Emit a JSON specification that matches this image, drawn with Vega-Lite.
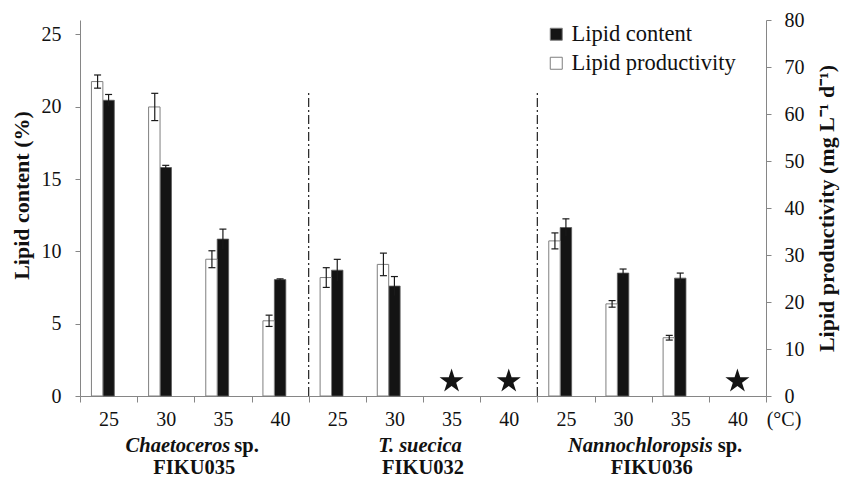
{
  "$schema": "https://vega.github.io/schema/vega-lite/v6.json",
  "width": 686,
  "height": 376,
  "autosize": {"type": "none"},
  "padding": {"left": 80, "top": 20, "right": 90, "bottom": 86},
  "background": "white",
  "config": {
    "view": {"stroke": null},
    "font": "'Liberation Serif', 'Times New Roman', Tinos, serif",
    "axis": {
      "labelFont": "'Liberation Serif', 'Times New Roman', Tinos, serif",
      "titleFont": "'Liberation Serif', 'Times New Roman', Tinos, serif",
      "labelColor": "#111",
      "titleColor": "#111",
      "domainColor": "#868686",
      "tickColor": "#868686",
      "grid": false,
      "labelFontSize": 20,
      "titleFontSize": 22,
      "titleFontWeight": "bold",
      "tickSize": 5
    },
    "text": {"font": "'Liberation Serif', 'Times New Roman', Tinos, serif", "color": "#111"}
  },
  "datasets": {
    "main": [
      {"key": "C25", "content": 20.45, "c_lo": 20.05, "c_hi": 20.85, "prod": 66.9, "p_lo": 65.5, "p_hi": 68.3},
      {"key": "C30", "content": 15.8, "c_lo": 15.65, "c_hi": 15.95, "prod": 61.5, "p_lo": 58.6, "p_hi": 64.4},
      {"key": "C35", "content": 10.85, "c_lo": 10.16, "c_hi": 11.54, "prod": 29.1, "p_lo": 27.3, "p_hi": 30.9},
      {"key": "C40", "content": 8.05, "c_lo": 8.0, "c_hi": 8.1, "prod": 16.0, "p_lo": 14.8, "p_hi": 17.2},
      {"key": "T25", "content": 8.7, "c_lo": 7.95, "c_hi": 9.45, "prod": 25.2, "p_lo": 23.1, "p_hi": 27.3},
      {"key": "T30", "content": 7.6, "c_lo": 6.94, "c_hi": 8.26, "prod": 28.0, "p_lo": 25.6, "p_hi": 30.4},
      {"key": "N25", "content": 11.65, "c_lo": 11.05, "c_hi": 12.25, "prod": 33.0, "p_lo": 31.3, "p_hi": 34.7},
      {"key": "N30", "content": 8.5, "c_lo": 8.22, "c_hi": 8.78, "prod": 19.6, "p_lo": 18.9, "p_hi": 20.3},
      {"key": "N35", "content": 8.15, "c_lo": 7.8, "c_hi": 8.5, "prod": 12.4, "p_lo": 11.9, "p_hi": 12.9}
    ],
    "stars": [
      {"key": "T35", "v": 1.02},
      {"key": "T40", "v": 1.02},
      {"key": "N40", "v": 1.02}
    ],
    "seps": [
      {"key": "T25"},
      {"key": "N25"}
    ],
    "codes": [
      {"key": "C30", "code": "FIKU035"},
      {"key": "T30", "code": "FIKU032"},
      {"key": "N30", "code": "FIKU036"}
    ]
  },
  "layer": [
    {
      "layer": [
        {
          "data": {"name": "main"},
          "mark": {"type": "bar", "stroke": "#5a5a5a", "strokeWidth": 0.8},
          "encoding": {
            "x": {
              "field": "key", "type": "nominal", "title": null,
              "scale": {"domain": ["C25","C30","C35","C40","T25","T30","T35","T40","N25","N30","N35","N40"], "paddingInner": 0, "paddingOuter": 0},
              "axis": {"labelExpr": "substring(datum.label, 1)", "tickBand": "extent", "labelAngle": 0, "tickSize": 6, "labelPadding": 7, "title": null}
            },
            "xOffset": {"datum": "Lipid content", "scale": {"domain": ["Lipid productivity", "Lipid content", "none"], "paddingInner": 0, "paddingOuter": 1.1}},
            "y": {
              "field": "content", "type": "quantitative", "title": "Lipid content (%)",
              "scale": {"domain": [0, 25]},
              "axis": {"orient": "left", "values": [0, 5, 10, 15, 20, 25], "labelPadding": 14, "titlePadding": 8, "titleY": 175}
            },
            "fill": {
              "datum": "Lipid content",
              "scale": {"domain": ["Lipid content", "Lipid productivity"], "range": ["#141414", "#ffffff"]},
              "legend": {"orient": "none", "legendX": 465, "legendY": 3, "title": null, "symbolType": "square", "symbolSize": 144, "labelFontSize": 22.5, "labelFont": "'Liberation Serif', 'Times New Roman', Tinos, serif", "labelColor": "#111", "labelLimit": 0, "rowPadding": 6, "symbolStrokeColor": "#555", "symbolStrokeWidth": 1, "labelOffset": 4, "padding": 0}
            }
          }
        },
        {
          "data": {"name": "main"},
          "mark": {"type": "rule", "color": "#1a1a1a", "strokeWidth": 1.2},
          "encoding": {
            "x": {"field": "key", "type": "nominal", "bandPosition": 0.5, "title": null},
            "y": {"field": "c_lo", "type": "quantitative"},
            "y2": {"field": "c_hi"}
          }
        },
        {
          "data": {"name": "main"},
          "mark": {"type": "point", "shape": "M-1,0L1,0", "filled": false, "color": "#1a1a1a", "strokeWidth": 1.2, "size": 49, "opacity": 1},
          "encoding": {
            "x": {"field": "key", "type": "nominal", "bandPosition": 0.5, "title": null},
            "y": {"field": "c_hi", "type": "quantitative"}
          }
        },
        {
          "data": {"name": "stars"},
          "mark": {"type": "point", "shape": "M0,-1L0.2245,-0.309L0.951,-0.309L0.363,0.118L0.588,0.809L0,0.382L-0.588,0.809L-0.363,0.118L-0.951,-0.309L-0.2245,-0.309Z", "filled": true, "color": "#141414", "size": 640, "opacity": 1},
          "encoding": {
            "x": {"field": "key", "type": "nominal", "title": null},
            "y": {"field": "v", "type": "quantitative"}
          }
        },
        {
          "data": {"name": "seps"},
          "mark": {"type": "rule", "color": "#222", "strokeWidth": 1.2, "strokeDash": [9, 3, 2, 3]},
          "encoding": {
            "x": {"field": "key", "type": "nominal", "bandPosition": 0, "title": null},
            "y": {"datum": 0},
            "y2": {"datum": 21}
          }
        },
        {
          "data": {"values": [{"key": "C30", "t": "Chaetoceros"}]},
          "mark": {"type": "text", "fontSize": 20.5, "fontWeight": "bold", "fontStyle": "italic", "align": "right", "baseline": "middle", "dx": 36},
          "encoding": {
            "x": {"field": "key", "type": "nominal", "bandPosition": 1, "title": null},
            "y": {"datum": -3.46},
            "text": {"field": "t"}
          }
        },
        {
          "data": {"values": [{"key": "C30", "t": "sp."}]},
          "mark": {"type": "text", "fontSize": 20.5, "fontWeight": "bold", "align": "left", "baseline": "middle", "dx": 40},
          "encoding": {
            "x": {"field": "key", "type": "nominal", "bandPosition": 1, "title": null},
            "y": {"datum": -3.46},
            "text": {"field": "t"}
          }
        },
        {
          "data": {"values": [{"key": "T30", "t": "T. suecica"}]},
          "mark": {"type": "text", "fontSize": 20.5, "fontWeight": "bold", "fontStyle": "italic", "align": "center", "baseline": "middle", "dx": -3},
          "encoding": {
            "x": {"field": "key", "type": "nominal", "bandPosition": 1, "title": null},
            "y": {"datum": -3.46},
            "text": {"field": "t"}
          }
        },
        {
          "data": {"values": [{"key": "N30", "t": "Nannochloropsis"}]},
          "mark": {"type": "text", "fontSize": 20.5, "fontWeight": "bold", "fontStyle": "italic", "align": "right", "baseline": "middle", "dx": 61},
          "encoding": {
            "x": {"field": "key", "type": "nominal", "bandPosition": 1, "title": null},
            "y": {"datum": -3.46},
            "text": {"field": "t"}
          }
        },
        {
          "data": {"values": [{"key": "N30", "t": "sp."}]},
          "mark": {"type": "text", "fontSize": 20.5, "fontWeight": "bold", "align": "left", "baseline": "middle", "dx": 66},
          "encoding": {
            "x": {"field": "key", "type": "nominal", "bandPosition": 1, "title": null},
            "y": {"datum": -3.46},
            "text": {"field": "t"}
          }
        },
        {
          "data": {"name": "codes"},
          "mark": {"type": "text", "fontSize": 20.5, "fontWeight": "bold", "align": "center", "baseline": "middle"},
          "encoding": {
            "x": {"field": "key", "type": "nominal", "bandPosition": 1, "title": null},
            "y": {"datum": -4.96},
            "text": {"field": "code"}
          }
        },
        {
          "data": {"values": [{"key": "N40", "t": "(°C)"}]},
          "mark": {"type": "text", "fontSize": 20, "align": "center", "baseline": "middle", "dx": 18},
          "encoding": {
            "x": {"field": "key", "type": "nominal", "bandPosition": 1, "title": null},
            "y": {"datum": -1.66},
            "text": {"field": "t"}
          }
        }
      ]
    },
    {
      "layer": [
        {
          "data": {"name": "main"},
          "mark": {"type": "bar", "stroke": "#7f7f7f", "strokeWidth": 1},
          "encoding": {
            "x": {"field": "key", "type": "nominal", "title": null},
            "xOffset": {"datum": "Lipid productivity"},
            "y": {
              "field": "prod", "type": "quantitative", "title": "Lipid productivity (mg L⁻¹ d⁻¹)",
              "scale": {"domain": [0, 80]},
              "axis": {"orient": "right", "values": [0, 10, 20, 30, 40, 50, 60, 70, 80], "labelPadding": 13, "titlePadding": 12, "titleAngle": -90, "titleBaseline": "top"}
            },
            "fill": {"datum": "Lipid productivity"}
          }
        },
        {
          "data": {"name": "main"},
          "mark": {"type": "rule", "color": "#1a1a1a", "strokeWidth": 1.2},
          "encoding": {
            "x": {"field": "key", "type": "nominal", "bandPosition": 0.3077, "title": null},
            "y": {"field": "p_lo", "type": "quantitative"},
            "y2": {"field": "p_hi"}
          }
        },
        {
          "data": {"name": "main"},
          "mark": {"type": "point", "shape": "M-1,0L1,0", "filled": false, "color": "#1a1a1a", "strokeWidth": 1.2, "size": 49, "opacity": 1},
          "encoding": {
            "x": {"field": "key", "type": "nominal", "bandPosition": 0.3077, "title": null},
            "y": {"field": "p_hi", "type": "quantitative"}
          }
        },
        {
          "data": {"name": "main"},
          "mark": {"type": "point", "shape": "M-1,0L1,0", "filled": false, "color": "#1a1a1a", "strokeWidth": 1.2, "size": 49, "opacity": 1},
          "encoding": {
            "x": {"field": "key", "type": "nominal", "bandPosition": 0.3077, "title": null},
            "y": {"field": "p_lo", "type": "quantitative"}
          }
        }
      ]
    }
  ],
  "resolve": {"scale": {"y": "independent"}}
}
